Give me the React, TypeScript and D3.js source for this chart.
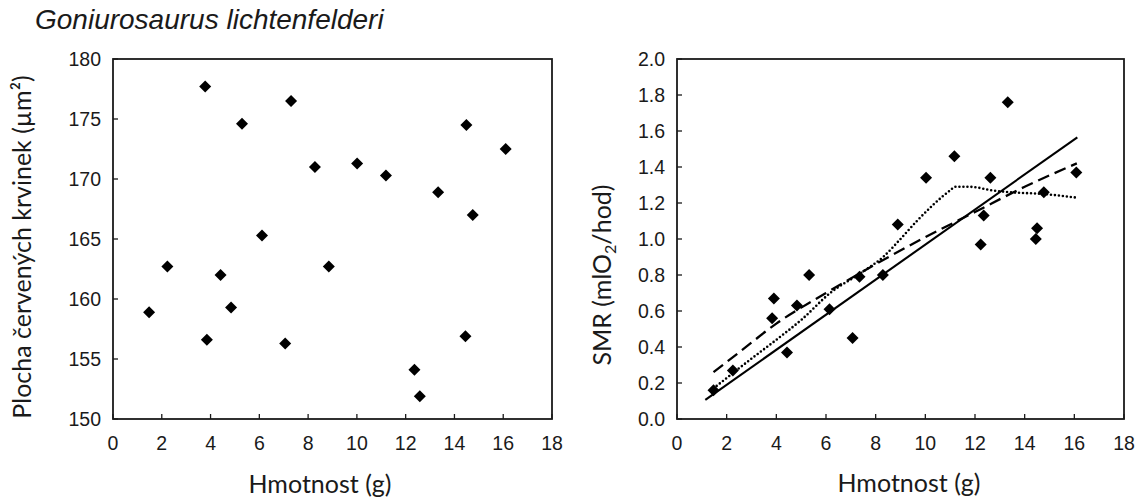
import * as d3 from "d3";

// Goniurosaurus lichtenfelderi: red blood cell area and SMR vs body mass
const massLeft = [1.48, 2.23, 3.78, 3.85, 4.41, 4.84, 5.29, 6.11, 7.06, 7.3, 8.28, 8.85, 10.01, 11.19, 12.36, 12.58, 13.33, 14.45, 14.49, 14.75, 16.1];
const rbcArea = [158.9, 162.7, 177.7, 156.6, 162.0, 159.3, 174.6, 165.3, 156.3, 176.5, 171.0, 162.7, 171.3, 170.3, 154.1, 151.9, 168.9, 156.9, 174.5, 167.0, 172.5];

const massRight = [1.47, 2.25, 3.83, 3.9, 4.43, 4.83, 5.32, 6.14, 7.07, 7.35, 8.29, 8.89, 10.03, 11.17, 12.23, 12.35, 12.62, 13.32, 14.45, 14.5, 14.77, 16.08];
const smr = [0.16, 0.27, 0.56, 0.67, 0.37, 0.63, 0.8, 0.61, 0.45, 0.79, 0.8, 1.08, 1.34, 1.46, 0.97, 1.13, 1.34, 1.76, 1.0, 1.06, 1.26, 1.37];

// trend lines
const linX = [1.14, 16.12];
const linY = [0.106, 1.565];
const powX = [1.47, 2.5, 4, 6, 8, 10, 12, 14, 16.1];
const powY = [0.26, 0.37, 0.53, 0.7, 0.86, 1.01, 1.15, 1.29, 1.42];
const avgX = [1.47, 2.95, 4.0, 5.0, 6.17, 7.5, 8.3, 9.0, 9.66, 11.0, 11.2, 11.8, 12.7, 13.4, 14.75, 16.08];
const avgY = [0.17, 0.33, 0.44, 0.55, 0.7, 0.82, 0.9, 1.0, 1.1, 1.27, 1.29, 1.29, 1.27, 1.26, 1.25, 1.23];

const xTicks = [0, 2, 4, 6, 8, 10, 12, 14, 16, 18];
const yTicksLeft = [150, 155, 160, 165, 170, 175, 180];
const yTicksRight = [0, 0.2, 0.4, 0.6, 0.8, 1.0, 1.2, 1.4, 1.6, 1.8, 2.0];

const W = 1141;
const H = 500;
const TOP = 59;
const BOTTOM = 419;
const tickFont = "'Liberation Sans', Arial, sans-serif";
const labelFont = "Lato, 'Open Sans', sans-serif";
const ink = "#1a1a1a";

const diamond = d3.symbol().type(d3.symbolSquare).size(72)();

function Panel({ x0, x1, y, yTicks, fmt, children }) {
  const x = d3.scaleLinear().domain([0, 18]).range([x0, x1]);
  return (
    <g>
      {xTicks.map((t) => (
        <g key={"x" + t}>
          <line x1={x(t)} x2={x(t)} y1={BOTTOM} y2={BOTTOM - 5} stroke={ink} strokeWidth={1.3} />
          <text x={x(t)} y={450} textAnchor="middle" fontFamily={tickFont} fontSize={19.5} fill={ink}>
            {t}
          </text>
        </g>
      ))}
      {yTicks.map((t) => (
        <g key={"y" + t}>
          <line x1={x0} x2={x0 + 5} y1={y(t)} y2={y(t)} stroke={ink} strokeWidth={1.3} />
          <text x={x0 - 12} y={y(t)} dy="0.35em" textAnchor="end" fontFamily={tickFont} fontSize={19.5} fill={ink}>
            {fmt(t)}
          </text>
        </g>
      ))}
      {children(x)}
      <rect x={x0} y={TOP} width={x1 - x0} height={BOTTOM - TOP} fill="none" stroke={ink} strokeWidth={1.8} />
    </g>
  );
}

export default function App() {
  const yL = d3.scaleLinear().domain([150, 180]).range([BOTTOM, TOP]);
  const yR = d3.scaleLinear().domain([0, 2]).range([BOTTOM, TOP]);

  return (
    <svg width={W} height={H} style={{ position: "absolute", left: 0, top: 0, background: "#fff" }}>
      <rect width={W} height={H} fill="#fff" />
      <text x={35} y={29} fontFamily={tickFont} fontStyle="italic" fontSize={28} fill={ink}>
        Goniurosaurus lichtenfelderi
      </text>

      <Panel x0={113} x1={552} y={yL} yTicks={yTicksLeft} fmt={(t) => String(t)}>
        {(x) =>
          massLeft.map((m, i) => (
            <path key={i} d={diamond} transform={`translate(${x(m)},${yL(rbcArea[i])}) rotate(45)`} fill="#000" />
          ))
        }
      </Panel>

      <Panel x0={677} x1={1124} y={yR} yTicks={yTicksRight} fmt={d3.format(".1f")}>
        {(x) => {
          const line = (xs, ys, curve) =>
            d3
              .line()
              .x((d) => x(d[0]))
              .y((d) => yR(d[1]))
              .curve(curve)(xs.map((v, i) => [v, ys[i]]));
          return (
            <g>
              {massRight.map((m, i) => (
                <path key={i} d={diamond} transform={`translate(${x(m)},${yR(smr[i])}) rotate(45)`} fill="#000" />
              ))}
              <path d={line(linX, linY, d3.curveLinear)} fill="none" stroke="#000" strokeWidth={2.1} />
              <path d={line(powX, powY, d3.curveMonotoneX)} fill="none" stroke="#000" strokeWidth={2.3} strokeDasharray="12,6" />
              <path d={line(avgX, avgY, d3.curveMonotoneX)} fill="none" stroke="#000" strokeWidth={2.6} strokeDasharray="0,4" strokeLinecap="round" />
            </g>
          );
        }}
      </Panel>

      <text x={320} y={493} textAnchor="middle" fontFamily={labelFont} fontSize={25} fill={ink}>
        Hmotnost (g)
      </text>
      <text x={909} y={492} textAnchor="middle" fontFamily={labelFont} fontSize={25} fill={ink}>
        Hmotnost (g)
      </text>

      <text transform="translate(31,247) rotate(-90)" textAnchor="middle" fontFamily={labelFont} fontSize={25} fill={ink}>
        Plocha červených krvinek (µm²)
      </text>
      <text transform="translate(611,275) rotate(-90)" textAnchor="middle" fontFamily={labelFont} fontSize={25} fill={ink}>
        SMR (mlO<tspan fontSize={16} dy={5}>2</tspan>
        <tspan dy={-5}>/hod)</tspan>
      </text>
    </svg>
  );
}
